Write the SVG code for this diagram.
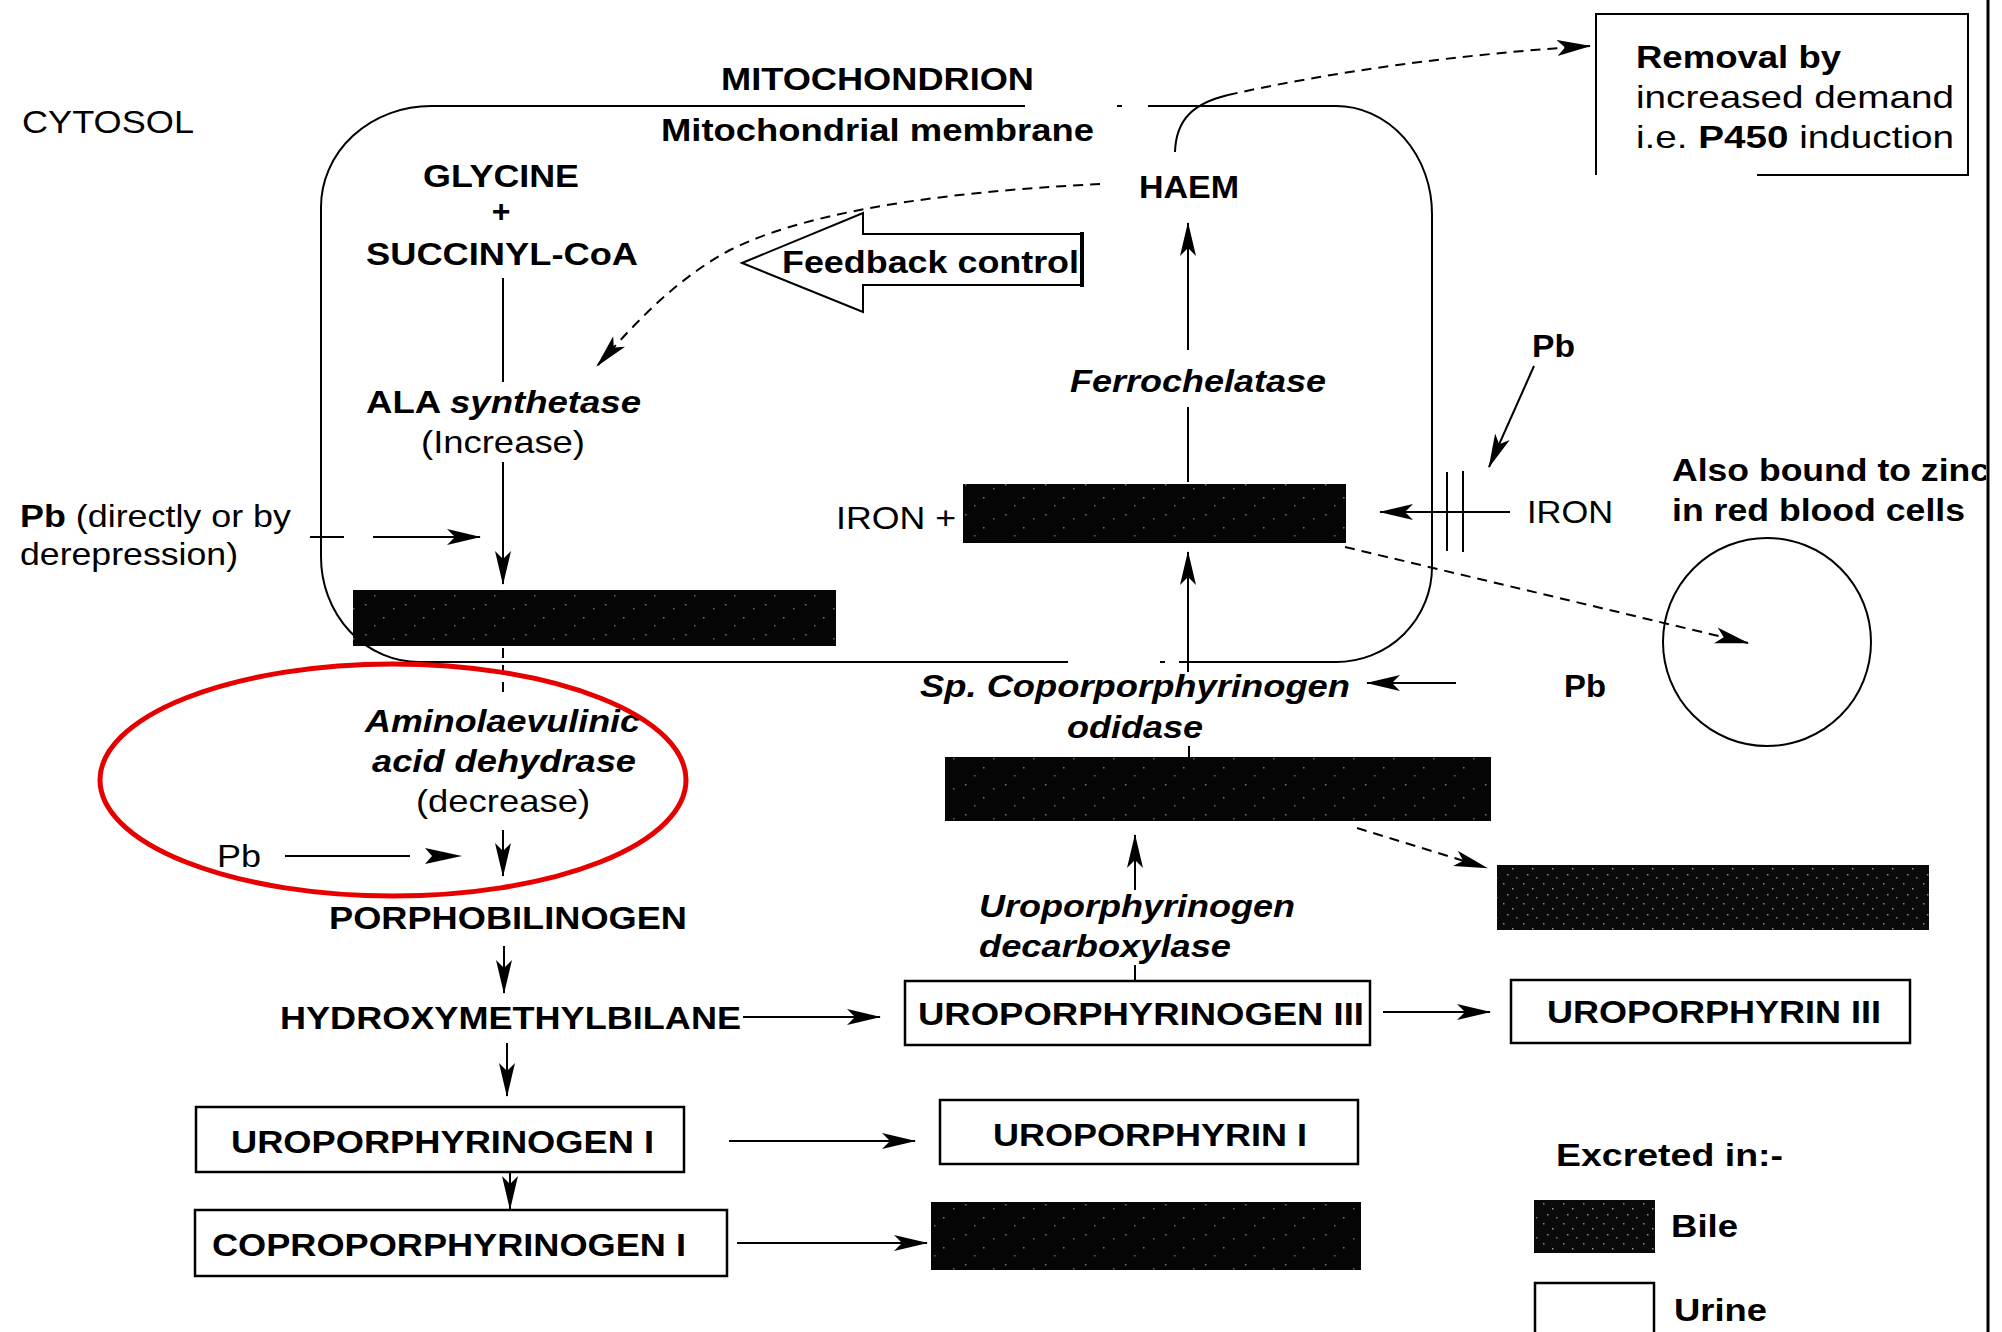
<svg xmlns="http://www.w3.org/2000/svg" width="2002" height="1332" viewBox="0 0 2002 1332">
<style>
.t{font-family:"Liberation Sans",Arial,sans-serif;font-size:32px;fill:#000}
.b{font-weight:bold}
.i{font-style:italic}
.ln{stroke:#000;stroke-width:2;fill:none}
.dash{stroke-dasharray:10 7}
.arr{marker-end:url(#ah)}
.box{fill:#fff;stroke:#000;stroke-width:2.5}
.blk{fill:url(#spk)}
.blk2{fill:url(#spk2)}
</style>
<defs>
<marker id="ah" markerUnits="userSpaceOnUse" markerWidth="34" markerHeight="18" viewBox="0 0 34 18" refX="33" refY="9" orient="auto">
<path d="M0,1 L34,9 L0,17 L8,9 Z" fill="#000"/>
</marker>
<pattern id="spk" width="40" height="30" patternUnits="userSpaceOnUse">
<rect width="40" height="30" fill="#050505"/>
<rect x="5" y="4" width="1.5" height="1.5" fill="#777"/>
<rect x="23" y="17" width="1.5" height="1.5" fill="#777"/>
<rect x="33" y="8" width="1.5" height="1.5" fill="#666"/>
<rect x="14" y="25" width="1.5" height="1.5" fill="#666"/>
</pattern>
<pattern id="spk2" width="20" height="20" patternUnits="userSpaceOnUse">
<rect width="20" height="20" fill="#0a0a0a"/>
<rect x="3" y="3" width="1.5" height="1.5" fill="#888"/>
<rect x="12" y="8" width="1.5" height="1.5" fill="#999"/>
<rect x="7" y="14" width="1.5" height="1.5" fill="#888"/>
<rect x="16" y="17" width="1.5" height="1.5" fill="#777"/>
</pattern>
<clipPath id="pageclip"><rect x="0" y="0" width="1986" height="1332"/></clipPath>
</defs>
<rect width="2002" height="1332" fill="#fff"/>

<g id="page-border"><line x1="1988" y1="0" x2="1988" y2="1332" stroke="#000" stroke-width="3"/></g>

<g id="mitochondrion">
<path class="ln" d="M431,106 H1025 M1117,106 H1122 M1148,106 H1336 A96,108 0 0 1 1432,214 V567 A96,95 0 0 1 1336,662 H1179 M1165,662 H1160 M1068,662 H419 A98,105 0 0 1 321,557 V207 A110,101 0 0 1 431,106"/>
<text class="t b" x="721" y="90" textLength="313" lengthAdjust="spacingAndGlyphs">MITOCHONDRION</text>
<text class="t b" x="661" y="141" font-size="30" textLength="433" lengthAdjust="spacingAndGlyphs">Mitochondrial membrane</text>
</g>

<g id="cytosol"><text class="t" x="22" y="133" textLength="172" lengthAdjust="spacingAndGlyphs">CYTOSOL</text></g>

<g id="connectors">
<line class="ln" x1="503" y1="278" x2="503" y2="382"/>
<line class="ln arr" x1="503" y1="462" x2="503" y2="584"/>
<line class="ln dash" x1="503" y1="648" x2="503" y2="692"/>
<line class="ln" x1="310" y1="537" x2="344" y2="537"/>
<line class="ln arr" x1="373" y1="537" x2="480" y2="537"/>
<line class="ln arr" x1="503" y1="830" x2="503" y2="876"/>
<line class="ln" x1="285" y1="856" x2="410" y2="856"/>
<path d="M425,848 L462,856 L425,864 L432,856 Z" fill="#000"/>
<line class="ln arr" x1="504" y1="946" x2="504" y2="993"/>
<line class="ln arr" x1="743" y1="1017" x2="880" y2="1017"/>
<line class="ln arr" x1="507" y1="1043" x2="507" y2="1096"/>
<line class="ln arr" x1="510" y1="1173" x2="510" y2="1209"/>
<line class="ln arr" x1="729" y1="1141" x2="915" y2="1141"/>
<line class="ln arr" x1="737" y1="1243" x2="927" y2="1243"/>
<line class="ln arr" x1="1383" y1="1012" x2="1490" y2="1012"/>
<line class="ln" x1="1135" y1="965" x2="1135" y2="981"/>
<line class="ln arr" x1="1135" y1="890" x2="1135" y2="835"/>
<line class="ln dash arr" x1="1357" y1="828" x2="1487" y2="868"/>
<line class="ln" x1="1189" y1="746" x2="1189" y2="757"/>
<line class="ln arr" x1="1188" y1="672" x2="1188" y2="552"/>
<line class="ln arr" x1="1456" y1="683" x2="1367" y2="683"/>
<line class="ln dash arr" x1="1345" y1="547" x2="1748" y2="643"/>
<line class="ln arr" x1="1510" y1="512" x2="1380" y2="512"/>
<line class="ln" x1="1447" y1="472" x2="1447" y2="551"/>
<line class="ln" x1="1463" y1="471" x2="1463" y2="552"/>
<line class="ln arr" x1="1534" y1="366" x2="1489" y2="467"/>
<line class="ln" x1="1188" y1="482" x2="1188" y2="407"/>
<line class="ln arr" x1="1188" y1="350" x2="1188" y2="223"/>
<path class="ln" d="M1175,152 C1176,118 1195,103 1228,95"/>
<path class="ln dash arr" d="M1228,95 C1330,72 1460,54 1590,46"/>
<path class="ln dash arr" d="M1100,184 C980,190 820,205 730,250 C670,282 625,335 597,366"/>
</g>

<g id="glycine">
<text class="t b" x="423" y="187" font-size="31" textLength="156" lengthAdjust="spacingAndGlyphs">GLYCINE</text>
<text class="t b" x="501" y="222" font-size="28" text-anchor="middle">+</text>
<text class="t b" x="366" y="265" font-size="31" textLength="272" lengthAdjust="spacingAndGlyphs">SUCCINYL-CoA</text>
</g>

<g id="ala-synthetase">
<text class="t b" x="366" y="413" font-size="31" textLength="275" lengthAdjust="spacingAndGlyphs">ALA <tspan class="i">synthetase</tspan></text>
<text class="t" x="421" y="453" font-size="31" textLength="164" lengthAdjust="spacingAndGlyphs">(Increase)</text>
</g>

<g id="pb-derepression">
<text class="t" x="20" y="527" font-size="30" textLength="271" lengthAdjust="spacingAndGlyphs"><tspan class="b">Pb</tspan> (directly or by</text>
<text class="t" x="20" y="565" font-size="30" textLength="218" lengthAdjust="spacingAndGlyphs">derepression)</text>
</g>

<g id="ala"><rect class="blk" x="353" y="590" width="483" height="56"/></g>

<g id="haem"><text class="t b" x="1139" y="198" font-size="31" textLength="100" lengthAdjust="spacingAndGlyphs">HAEM</text></g>

<g id="feedback-control">
<path d="M742,263 L863,213 L863,234 L1082,234 L1082,285 L863,285 L863,312 Z" fill="none" stroke="#000" stroke-width="2"/>
<line x1="1082" y1="232" x2="1082" y2="287" stroke="#000" stroke-width="4"/>
<text class="t b" x="782" y="273" font-size="31" textLength="297" lengthAdjust="spacingAndGlyphs">Feedback control</text>
</g>

<g id="removal">
<path class="ln" d="M1596,175 V14 H1968 V175 H1757"/>
<text class="t b" x="1636" y="68" font-size="30" textLength="205" lengthAdjust="spacingAndGlyphs">Removal by</text>
<text class="t" x="1636" y="108" font-size="30" textLength="318" lengthAdjust="spacingAndGlyphs">increased demand</text>
<text class="t" x="1636" y="148" font-size="30" textLength="318" lengthAdjust="spacingAndGlyphs">i.e. <tspan class="b">P450</tspan> induction</text>
</g>

<g id="ferrochelatase"><text class="t b i" x="1070" y="392" font-size="31" textLength="256" lengthAdjust="spacingAndGlyphs">Ferrochelatase</text></g>

<g id="protoporphyrin">
<text class="t" x="836" y="529" font-size="31" textLength="120" lengthAdjust="spacingAndGlyphs">IRON +</text>
<rect class="blk" x="963" y="484" width="383" height="59"/>
</g>

<g id="pb-iron"><text class="t b" x="1532" y="357" font-size="31" textLength="43" lengthAdjust="spacingAndGlyphs">Pb</text></g>
<g id="iron"><text class="t" x="1527" y="523" font-size="31" textLength="86" lengthAdjust="spacingAndGlyphs">IRON</text></g>

<g id="red-blood-cells">
<g clip-path="url(#pageclip)"><text class="t b" x="1672" y="481" font-size="31" textLength="318" lengthAdjust="spacingAndGlyphs">Also bound to zinc</text></g>
<text class="t b" x="1672" y="521" font-size="31" textLength="293" lengthAdjust="spacingAndGlyphs">in red blood cells</text>
<circle cx="1767" cy="642" r="104" fill="none" stroke="#000" stroke-width="2"/>
</g>

<g id="coproporphyrinogen-oxidase">
<text class="t b i" x="920" y="697" font-size="31" textLength="430" lengthAdjust="spacingAndGlyphs">Sp. Coporporphyrinogen</text>
<text class="t b i" x="1067" y="738" font-size="31" textLength="136" lengthAdjust="spacingAndGlyphs">odidase</text>
</g>
<g id="pb-oxidase"><text class="t b" x="1564" y="697" font-size="31" textLength="42" lengthAdjust="spacingAndGlyphs">Pb</text></g>

<g id="coproporphyrinogen-iii"><rect class="blk" x="945" y="757" width="546" height="64"/></g>
<g id="coproporphyrin-iii"><rect class="blk2" x="1497" y="865" width="432" height="65"/></g>

<g id="decarboxylase">
<text class="t b i" x="979" y="917" font-size="31" textLength="316" lengthAdjust="spacingAndGlyphs">Uroporphyrinogen</text>
<text class="t b i" x="979" y="957" font-size="31" textLength="252" lengthAdjust="spacingAndGlyphs">decarboxylase</text>
</g>

<g id="ala-dehydrase">
<text class="t b i" x="365" y="732" font-size="31" textLength="275" lengthAdjust="spacingAndGlyphs">Aminolaevulinic</text>
<text class="t b i" x="372" y="772" font-size="31" textLength="264" lengthAdjust="spacingAndGlyphs">acid dehydrase</text>
<text class="t" x="416" y="812" font-size="31" textLength="174" lengthAdjust="spacingAndGlyphs">(decrease)</text>
<text class="t" x="217" y="867" font-size="31" textLength="44" lengthAdjust="spacingAndGlyphs">Pb</text>
</g>

<g id="highlight"><ellipse cx="393" cy="780" rx="293" ry="116" fill="none" stroke="#e60000" stroke-width="5"/></g>

<g id="porphobilinogen"><text class="t b" x="329" y="929" textLength="358" lengthAdjust="spacingAndGlyphs">PORPHOBILINOGEN</text></g>
<g id="hydroxymethylbilane"><text class="t b" x="280" y="1029" textLength="461" lengthAdjust="spacingAndGlyphs">HYDROXYMETHYLBILANE</text></g>

<g id="uroporphyrinogen-iii">
<rect class="box" x="905" y="981" width="465" height="64"/>
<text class="t b" x="918" y="1025" textLength="446" lengthAdjust="spacingAndGlyphs">UROPORPHYRINOGEN III</text>
</g>
<g id="uroporphyrin-iii">
<rect class="box" x="1511" y="980" width="399" height="63"/>
<text class="t b" x="1547" y="1023" textLength="334" lengthAdjust="spacingAndGlyphs">UROPORPHYRIN III</text>
</g>
<g id="uroporphyrinogen-i">
<rect class="box" x="196" y="1107" width="488" height="65"/>
<text class="t b" x="231" y="1153" textLength="423" lengthAdjust="spacingAndGlyphs">UROPORPHYRINOGEN I</text>
</g>
<g id="uroporphyrin-i">
<rect class="box" x="940" y="1100" width="418" height="64"/>
<text class="t b" x="993" y="1146" textLength="314" lengthAdjust="spacingAndGlyphs">UROPORPHYRIN I</text>
</g>
<g id="coproporphyrinogen-i">
<rect class="box" x="195" y="1210" width="532" height="66"/>
<text class="t b" x="212" y="1256" textLength="474" lengthAdjust="spacingAndGlyphs">COPROPORPHYRINOGEN I</text>
</g>
<g id="coproporphyrin-i"><rect class="blk" x="931" y="1202" width="430" height="68"/></g>

<g id="legend">
<text class="t b" x="1556" y="1166" font-size="31" textLength="227" lengthAdjust="spacingAndGlyphs">Excreted in:-</text>
<rect class="blk2" x="1534" y="1200" width="121" height="53"/>
<text class="t b" x="1671" y="1237" font-size="31" textLength="67" lengthAdjust="spacingAndGlyphs">Bile</text>
<rect x="1535" y="1283" width="119" height="60" fill="#fff" stroke="#000" stroke-width="2.5"/>
<text class="t b" x="1674" y="1321" font-size="31" textLength="93" lengthAdjust="spacingAndGlyphs">Urine</text>
</g>
</svg>
